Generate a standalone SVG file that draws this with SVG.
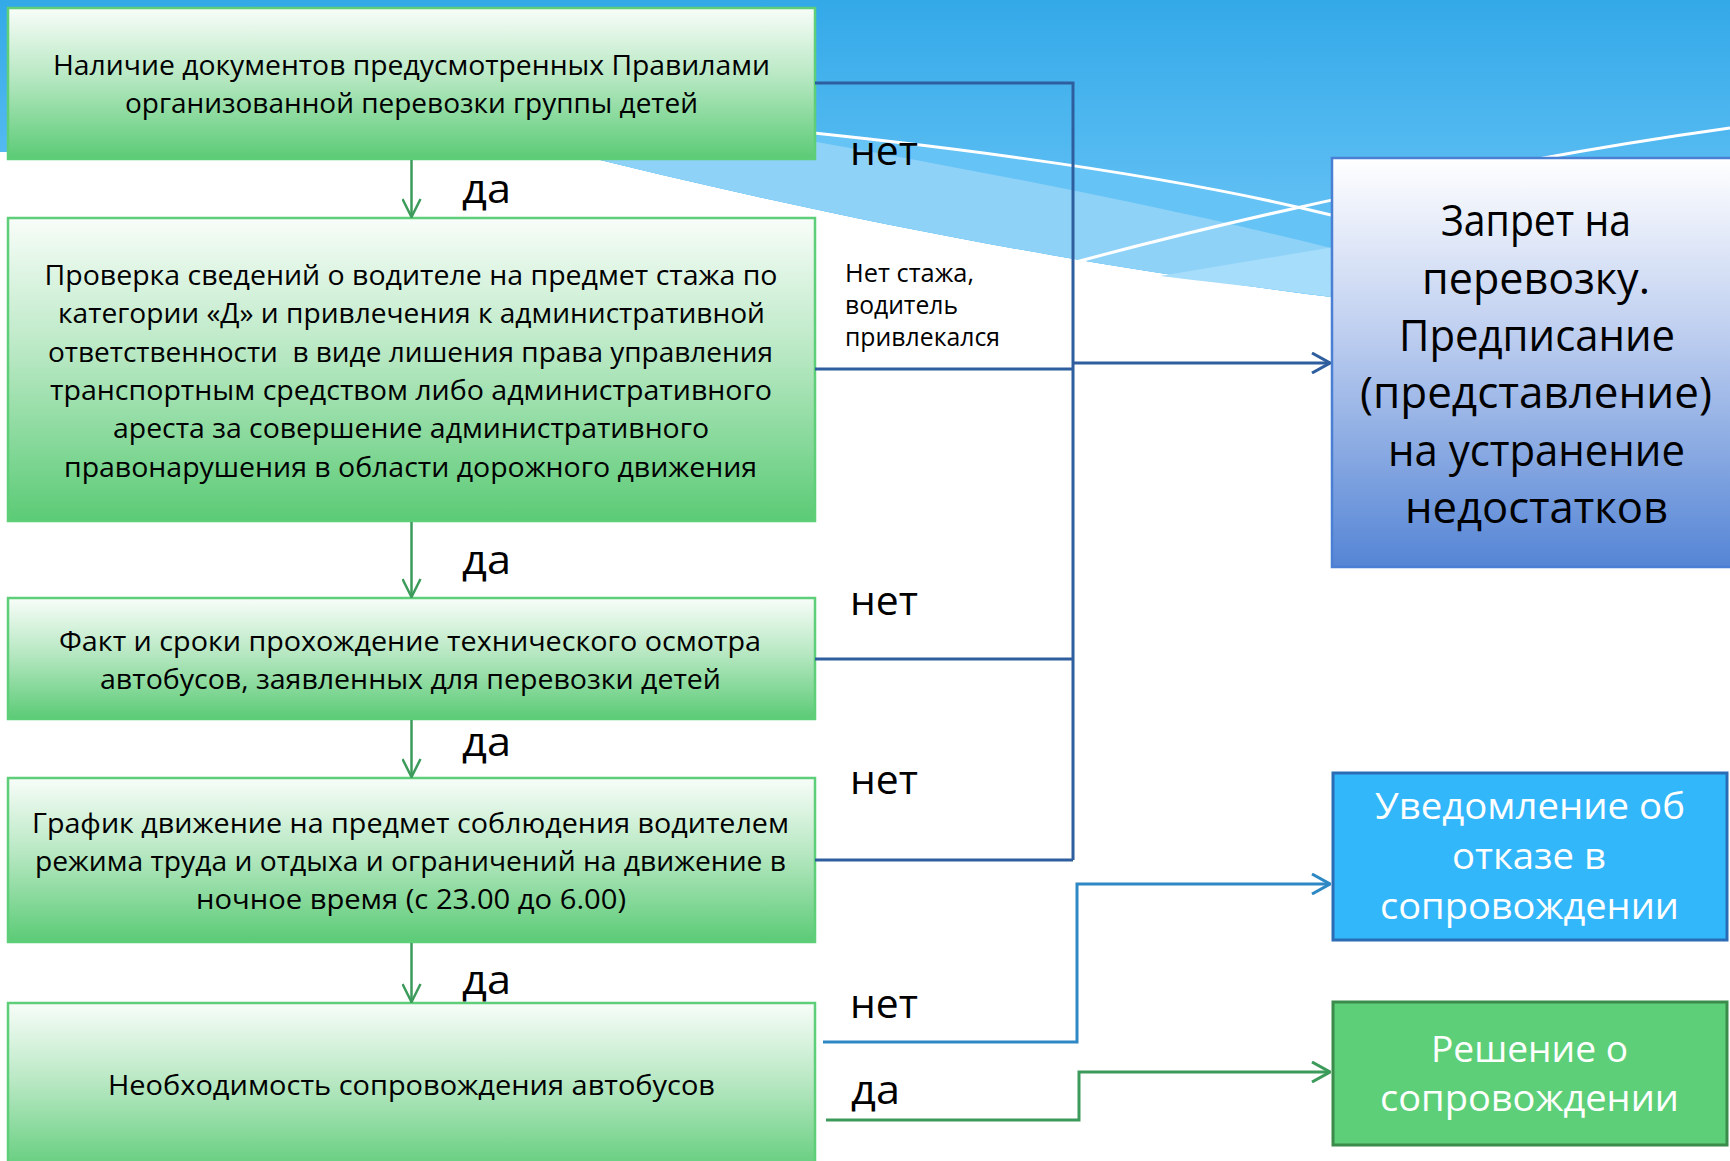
<svg xmlns="http://www.w3.org/2000/svg" width="1730" height="1161" viewBox="0 0 1730 1161">
<defs>
<style>
.t{font-family:"Open Sans","Noto Sans","DejaVu Sans",sans-serif;font-size:28px;fill:#000;text-anchor:middle}
.big{font-family:"Open Sans","Noto Sans","DejaVu Sans",sans-serif;font-size:44px;fill:#000;text-anchor:middle}
.wt{font-family:"Open Sans","Noto Sans","DejaVu Sans",sans-serif;font-size:37px;fill:#fff;text-anchor:middle}
.lbl{font-family:"Open Sans","Noto Sans","DejaVu Sans",sans-serif;font-size:41px;fill:#000}
.sm{font-family:"Open Sans","Noto Sans","DejaVu Sans",sans-serif;font-size:25px;fill:#000}
.gbox{fill:url(#gg);stroke:#5ECE79;stroke-width:2.5}
.cn{fill:none;stroke-width:3}
.dk{stroke:#2F5E9E}
.lb{stroke:#2E88C4}
.gr{stroke:#3C9B5B}
.ga{fill:none;stroke:#3C9B5B;stroke-width:2.5}
</style>
<linearGradient id="sky" x1="0" y1="0" x2="0" y2="300" gradientUnits="userSpaceOnUse">
<stop offset="0" stop-color="#33A9E8"/>
<stop offset="0.65" stop-color="#5DBEF3"/>
<stop offset="1" stop-color="#66C3F5"/>
</linearGradient>
<linearGradient id="gg" x1="0" y1="0" x2="0" y2="1">
<stop offset="0" stop-color="#F8FDF9"/>
<stop offset="0.45" stop-color="#B8E8C3"/>
<stop offset="1" stop-color="#5BCB76"/>
</linearGradient>
<linearGradient id="bg1" x1="0" y1="0" x2="0" y2="1">
<stop offset="0" stop-color="#FFFFFF"/>
<stop offset="0.4" stop-color="#C3D2F1"/>
<stop offset="1" stop-color="#5585D5"/>
</linearGradient>
<marker id="mg" viewBox="0 0 20 20" refX="19" refY="10" markerWidth="20" markerHeight="20" markerUnits="userSpaceOnUse" orient="auto">
<path d="M1,1 L19,10 L1,19" fill="none" stroke="#3C9B5B" stroke-width="2.5"/>
</marker>
<marker id="md" viewBox="0 0 20 22" refX="19" refY="11" markerWidth="20" markerHeight="22" markerUnits="userSpaceOnUse" orient="auto">
<path d="M1,1 L19,11 L1,21" fill="none" stroke="#2F5E9E" stroke-width="3"/>
</marker>
<marker id="ml" viewBox="0 0 20 22" refX="19" refY="11" markerWidth="20" markerHeight="22" markerUnits="userSpaceOnUse" orient="auto">
<path d="M1,1 L19,11 L1,21" fill="none" stroke="#2E88C4" stroke-width="3"/>
</marker>
<marker id="mgr" viewBox="0 0 20 22" refX="19" refY="11" markerWidth="20" markerHeight="22" markerUnits="userSpaceOnUse" orient="auto">
<path d="M1,1 L19,11 L1,21" fill="none" stroke="#3C9B5B" stroke-width="3"/>
</marker>
</defs>

<rect width="1730" height="1161" fill="#FFFFFF"/>
<g id="background">
<path d="M0,0 H1730 V310 L1340,298 C1050,262 800,210 560,150 L0,152 Z" fill="url(#sky)"/>
<path d="M700,122 C900,140 1150,170 1331,215 L1740,245 L1740,310 L1340,298 C1050,262 800,210 560,150 Z" fill="#66C3F5"/>
<path d="M600,105 C800,138 1100,190 1331,248 L1740,300 L1740,310 L1340,298 C1050,262 800,210 560,150 Z" fill="#8FD2F8"/>
<path d="M1160,276 L1340,246 L1340,298 C1260,287 1200,281 1160,276 Z" fill="#A6DDFA"/>
<path d="M700,122 C900,140 1150,170 1331,215" fill="none" stroke="#FFFFFF" stroke-width="3"/>
<path d="M1076,262 C1250,215 1500,160 1730,128" fill="none" stroke="#FFFFFF" stroke-width="3"/>
</g>

<g id="node-documents">
<rect class="gbox" x="8" y="8" width="807" height="151"/>
<text class="t" x="411.5" y="75" textLength="717" lengthAdjust="spacingAndGlyphs">Наличие документов предусмотренных Правилами</text>
<text class="t" x="411.5" y="113" textLength="573" lengthAdjust="spacingAndGlyphs">организованной перевозки группы детей</text>
</g>

<g id="node-driver">
<rect class="gbox" x="8" y="218" width="807" height="303"/>
<text class="t" x="411" y="285" textLength="733" lengthAdjust="spacingAndGlyphs">Проверка сведений о водителе на предмет стажа по</text>
<text class="t" x="411.5" y="323" textLength="707" lengthAdjust="spacingAndGlyphs">категории «Д» и привлечения к административной</text>
<text class="t" x="410.5" y="362" textLength="725" lengthAdjust="spacingAndGlyphs" xml:space="preserve">ответственности  в виде лишения права управления</text>
<text class="t" x="411" y="400" textLength="722" lengthAdjust="spacingAndGlyphs">транспортным средством либо административного</text>
<text class="t" x="411" y="438" textLength="596" lengthAdjust="spacingAndGlyphs">ареста за совершение административного</text>
<text class="t" x="410.5" y="477" textLength="693" lengthAdjust="spacingAndGlyphs">правонарушения в области дорожного движения</text>
</g>

<g id="node-inspection">
<rect class="gbox" x="8" y="598" width="807" height="121"/>
<text class="t" x="410" y="651" textLength="702" lengthAdjust="spacingAndGlyphs">Факт и сроки прохождение технического осмотра</text>
<text class="t" x="410.5" y="689" textLength="621" lengthAdjust="spacingAndGlyphs">автобусов, заявленных для перевозки детей</text>
</g>

<g id="node-schedule">
<rect class="gbox" x="8" y="778" width="807" height="164"/>
<text class="t" x="410.5" y="833" textLength="757" lengthAdjust="spacingAndGlyphs">График движение на предмет соблюдения водителем</text>
<text class="t" x="410.5" y="871" textLength="751" lengthAdjust="spacingAndGlyphs">режима труда и отдыха и ограничений на движение в</text>
<text class="t" x="411" y="909" textLength="430" lengthAdjust="spacingAndGlyphs">ночное время (с 23.00 до 6.00)</text>
</g>

<g id="node-escort">
<rect class="gbox" x="8" y="1003" width="807" height="175"/>
<text class="t" x="411.5" y="1095" textLength="607" lengthAdjust="spacingAndGlyphs">Необходимость сопровождения автобусов</text>
</g>

<g id="node-ban">
<rect x="1332" y="158" width="410" height="409" fill="url(#bg1)" stroke="#4A7FD4" stroke-width="2.5"/>
<text class="big" x="1536" y="236" textLength="190" lengthAdjust="spacingAndGlyphs">Запрет на</text>
<text class="big" x="1536" y="294" textLength="228" lengthAdjust="spacingAndGlyphs">перевозку.</text>
<text class="big" x="1537" y="351" textLength="276" lengthAdjust="spacingAndGlyphs">Предписание</text>
<text class="big" x="1536" y="408" textLength="352" lengthAdjust="spacingAndGlyphs">(представление)</text>
<text class="big" x="1536.5" y="466" textLength="297" lengthAdjust="spacingAndGlyphs">на устранение</text>
<text class="big" x="1536.5" y="523" textLength="263" lengthAdjust="spacingAndGlyphs">недостатков</text>
</g>

<g id="node-refusal">
<rect x="1333" y="773" width="394" height="167" fill="#33B7FB" stroke="#2B6DB5" stroke-width="3"/>
<text class="wt" x="1530" y="819" textLength="310" lengthAdjust="spacingAndGlyphs">Уведомление об</text>
<text class="wt" x="1529" y="869" textLength="154" lengthAdjust="spacingAndGlyphs">отказе в</text>
<text class="wt" x="1529.5" y="919" textLength="299" lengthAdjust="spacingAndGlyphs">сопровождении</text>
</g>

<g id="node-decision">
<rect x="1333" y="1002" width="394" height="143" fill="#5DCF79" stroke="#3B8B4B" stroke-width="3"/>
<text class="wt" x="1529.5" y="1062" textLength="197" lengthAdjust="spacingAndGlyphs">Решение о</text>
<text class="wt" x="1529.5" y="1111" textLength="299" lengthAdjust="spacingAndGlyphs">сопровождении</text>
</g>

<g id="connectors">
<path class="ga" d="M411.5,160 V217" marker-end="url(#mg)"/>
<path class="ga" d="M411.5,522 V597" marker-end="url(#mg)"/>
<path class="ga" d="M411.5,720 V777" marker-end="url(#mg)"/>
<path class="ga" d="M411.5,943 V1002" marker-end="url(#mg)"/>
<path class="cn dk" d="M815,83 H1073 V860"/>
<path class="cn dk" d="M815,369 H1073"/>
<path class="cn dk" d="M815,659 H1073"/>
<path class="cn dk" d="M815,860 H1073"/>
<path class="cn dk" d="M1073,363 H1330" marker-end="url(#md)"/>
<path class="cn lb" d="M823,1042 H1077 V884 H1330" marker-end="url(#ml)"/>
<path class="cn gr" d="M826,1120 H1079 V1072 H1330" marker-end="url(#mgr)"/>
</g>

<g id="connector-labels">
<text class="lbl" x="462" y="203" textLength="49" lengthAdjust="spacingAndGlyphs">да</text>
<text class="lbl" x="462" y="574" textLength="49" lengthAdjust="spacingAndGlyphs">да</text>
<text class="lbl" x="462" y="756" textLength="49" lengthAdjust="spacingAndGlyphs">да</text>
<text class="lbl" x="462" y="994" textLength="49" lengthAdjust="spacingAndGlyphs">да</text>
<text class="lbl" x="851" y="1104" textLength="49" lengthAdjust="spacingAndGlyphs">да</text>
<text class="lbl" x="850" y="165" textLength="68" lengthAdjust="spacingAndGlyphs">нет</text>
<text class="lbl" x="850" y="615" textLength="68" lengthAdjust="spacingAndGlyphs">нет</text>
<text class="lbl" x="850" y="794" textLength="68" lengthAdjust="spacingAndGlyphs">нет</text>
<text class="lbl" x="850" y="1018" textLength="68" lengthAdjust="spacingAndGlyphs">нет</text>
<text class="sm" x="845" y="282" textLength="129" lengthAdjust="spacingAndGlyphs">Нет стажа,</text>
<text class="sm" x="845" y="314" textLength="113" lengthAdjust="spacingAndGlyphs">водитель</text>
<text class="sm" x="845" y="346" textLength="155" lengthAdjust="spacingAndGlyphs">привлекался</text>
</g>
</svg>
